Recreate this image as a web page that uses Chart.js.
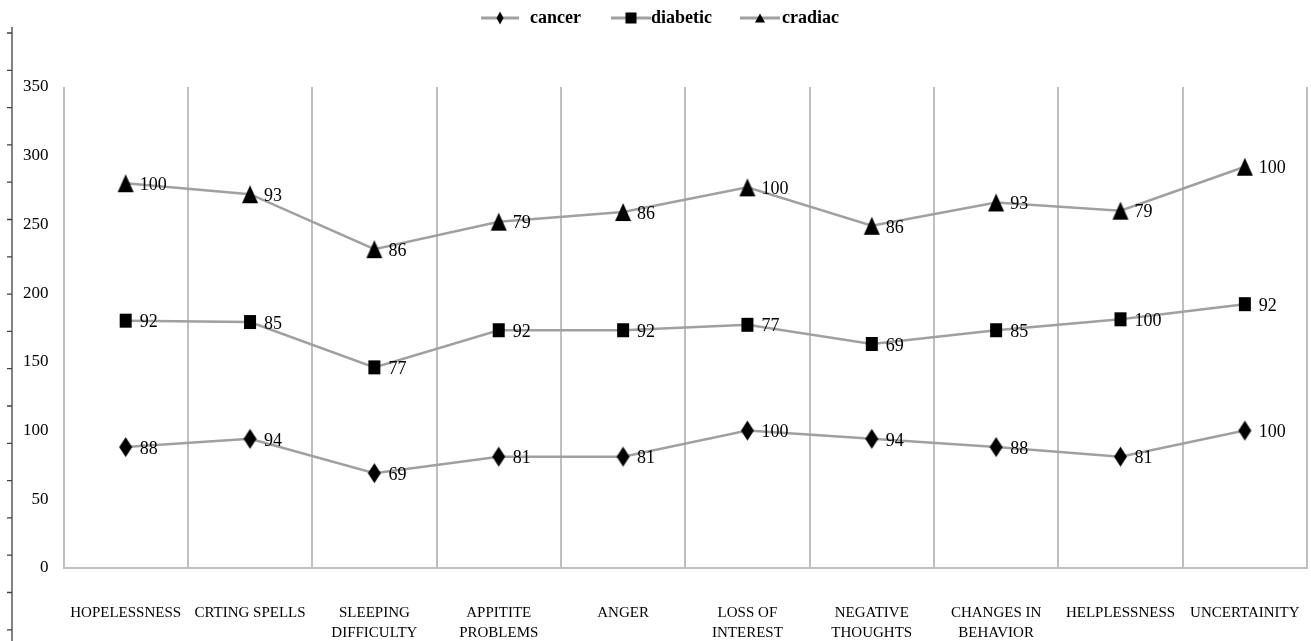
<!DOCTYPE html>
<html>
<head>
<meta charset="utf-8">
<script src="https://cdn.jsdelivr.net/npm/chart.js@4.4.0/dist/chart.umd.min.js"></script>
<style>
  html, body { margin: 0; padding: 0; background: #fff; }
  #wrap { width: 1311px; height: 641px; }
</style>
</head>
<body>
<div id="wrap"><canvas id="myChart"></canvas></div>
<script>
// categories and the individual series values (chart stacks them)
const categories = [
    'HOPELESSNESS', 'CRTING SPELLS', ['SLEEPING', 'DIFFICULTY'], ['APPITITE', 'PROBLEMS'], 'ANGER',
    ['LOSS OF', 'INTEREST'], ['NEGATIVE', 'THOUGHTS'], ['CHANGES IN', 'BEHAVIOR'], 'HELPLESSNESS', 'UNCERTAINITY'
];
const cancer   = [88, 94, 69, 81, 81, 100, 94, 88, 81, 100];
const diabetic = [92, 85, 77, 92, 92, 77, 69, 85, 100, 92];
const cradiac  = [100, 93, 86, 79, 86, 100, 86, 93, 79, 100];
const seriesNames = ['cancer', 'diabetic', 'cradiac'];

const LINE = '#a0a0a0';
const GRID = '#bfbfbf';
const SERIF = '"Liberation Serif", "Times New Roman", serif';
const LEGEND_SIZE = 18;
const LEGEND_BOX = 45;

function drawShape(c, shape, cx, cy, w, h) {
    c.fillStyle = '#000';
    c.beginPath();
    if (shape === 'diamond') {
        c.moveTo(cx, cy - h / 2);
        c.lineTo(cx + w / 2, cy);
        c.lineTo(cx, cy + h / 2);
        c.lineTo(cx - w / 2, cy);
    } else if (shape === 'square') {
        c.rect(cx - w / 2, cy - h / 2, w, h);
    } else {
        c.moveTo(cx, cy - h / 2);
        c.lineTo(cx + w / 2, cy + h / 2);
        c.lineTo(cx - w / 2, cy + h / 2);
    }
    c.closePath();
    c.fill();
}

function marker(shape, w, h) {
    const cv = document.createElement('canvas');
    cv.width = w + 2; cv.height = h + 2;
    drawShape(cv.getContext('2d'), shape, cv.width / 2, cv.height / 2, w, h);
    return cv;
}

// legend icon; its right edge lands where the legend text starts
function legendIcon(shape, w, h, len, gap) {
    const cv = document.createElement('canvas');
    cv.width = LEGEND_BOX + LEGEND_SIZE; cv.height = 14;
    const c = cv.getContext('2d');
    const x1 = cv.width - gap, x0 = x1 - len;
    c.strokeStyle = LINE;
    c.lineWidth = 3;
    c.beginPath();
    c.moveTo(x0, 7); c.lineTo(x1, 7);
    c.stroke();
    drawShape(c, shape, (x0 + x1) / 2, 7, w, h);
    return cv;
}

const pointMarks = [marker('diamond', 13, 20), marker('square', 12, 14), marker('triangle', 16, 18)];
const legendMarks = [
    legendIcon('diamond', 7, 13, 38, 11),
    legendIcon('square', 11, 11, 40, 0),
    legendIcon('triangle', 10, 9, 40, 2)
];

// value labels next to each point
const valueLabels = {
    id: 'valueLabels',
    afterDatasetsDraw(chart) {
        const ctx = chart.ctx;
        ctx.save();
        ctx.font = '18px ' + SERIF;
        ctx.fillStyle = '#000';
        ctx.textAlign = 'left';
        ctx.textBaseline = 'middle';
        chart.data.datasets.forEach(function (ds, i) {
            chart.getDatasetMeta(i).data.forEach(function (pt, j) {
                ctx.fillText(ds.data[j], pt.x + 14, pt.y + 2);
            });
        });
        ctx.restore();
    }
};

// the stray ruler on the far left of the original picture
const leftRule = {
    id: 'leftRule',
    afterDraw(chart) {
        const ctx = chart.ctx;
        ctx.save();
        ctx.strokeStyle = '#404040';
        ctx.lineWidth = 1.3;
        ctx.beginPath();
        ctx.moveTo(12, 27); ctx.lineTo(12, chart.height);
        for (let y = 33; y < chart.height; y += 37.3) {
            ctx.moveTo(7, y); ctx.lineTo(12, y);
        }
        ctx.stroke();
        ctx.restore();
    }
};

// legend block taller than its row, so the plot starts lower
const legendGap = {
    id: 'legendGap',
    beforeInit(chart) {
        const fit = chart.legend.fit;
        chart.legend.fit = function () {
            fit.call(this);
            this.height = 94;
        };
    }
};

const datasets = [cancer, diabetic, cradiac].map(function (vals, i) {
    return {
        label: seriesNames[i],
        data: vals,
        borderColor: LINE,
        borderWidth: 2.5,
        fill: false,
        tension: 0,
        pointStyle: pointMarks[i],
        pointRadius: 5,
        pointHoverRadius: 5
    };
});

const ctx = document.getElementById('myChart').getContext('2d');
const myChart = new Chart(ctx, {
    type: 'line',
    data: { labels: categories, datasets: datasets },
    options: {
        responsive: true,
        maintainAspectRatio: false,
        animation: false,
        layout: { autoPadding: false, padding: { left: 8, right: 4, top: -7, bottom: 0 } },
        plugins: {
            tooltip: { enabled: false },
            legend: {
                position: 'top',
                labels: {
                    usePointStyle: true,
                    pointStyleWidth: LEGEND_BOX,
                    padding: 16,
                    color: '#000',
                    font: { family: SERIF, size: LEGEND_SIZE, weight: 'bold' },
                    generateLabels(chart) {
                        return chart.data.datasets.map(function (ds, i) {
                            return {
                                text: ds.label,
                                pointStyle: legendMarks[i],
                                fillStyle: '#000',
                                strokeStyle: '#000',
                                lineWidth: 0,
                                fontColor: '#000',
                                hidden: false,
                                datasetIndex: i
                            };
                        });
                    }
                }
            }
        },
        scales: {
            x: {
                offset: true,
                grid: { display: true, offset: true, color: GRID, lineWidth: 2, drawTicks: false },
                border: { display: true, color: GRID, width: 2 },
                ticks: {
                    color: '#000',
                    padding: 35,
                    maxRotation: 0,
                    autoSkip: false,
                    font: { family: SERIF, size: 15, lineHeight: 1.33 }
                },
                afterFit(scale) {
                    scale.paddingLeft = 0;
                    scale.paddingRight = 0;
                    scale.height = 73;
                }
            },
            y: {
                stacked: true,
                min: 0,
                max: 350,
                grid: { display: false, drawTicks: false },
                border: { display: false },
                ticks: {
                    stepSize: 50,
                    color: '#000',
                    padding: 15,
                    font: { family: SERIF, size: 17 }
                }
            }
        }
    },
    plugins: [legendGap, valueLabels, leftRule]
});
</script>
</body>
</html>
